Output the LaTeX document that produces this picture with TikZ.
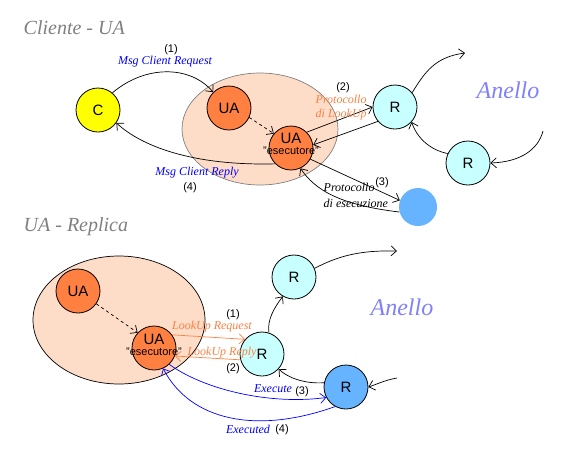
\documentclass[tikz,border=0pt]{standalone}
\usepackage{fontspec}
\setmainfont{Liberation Serif}
\setsansfont{Liberation Sans}
\usetikzlibrary{arrows.meta}
\definecolor{giallo}{HTML}{FFFF00}
\definecolor{arancio}{HTML}{FF8040}
\definecolor{pesca}{HTML}{FDDCC8}
\definecolor{ciano}{HTML}{C8FFFF}
\definecolor{azzurro}{HTML}{66B3FF}
\definecolor{lilla}{HTML}{8080FF}
\definecolor{grigio}{HTML}{808080}
\begin{document}
\begin{tikzpicture}[x=1pt, y=-1pt, line width=0.7pt,
    >={Straight Barb[length=5.5pt,width=10pt]},
    nodo/.style={circle, draw, line width=0.8pt, minimum size=44pt, inner sep=0pt,
        font=\sffamily\fontsize{15}{15}\selectfont},
    titolo/.style={anchor=west, text=grigio, font=\itshape\fontsize{20}{20}\selectfont},
    anello/.style={text=lilla, font=\itshape\fontsize{24}{24}\selectfont},
    num/.style={font=\sffamily\fontsize{11}{11}\selectfont},
    etich/.style={font=\itshape\fontsize{12}{12}\selectfont},
    esectxt/.style={font=\sffamily\fontsize{11}{11}\selectfont}]
    \useasboundingbox (0,0) rectangle (576,448);

    % ---- Cliente - UA ----
    \node[titolo] (tit1) at (20,28) {Cliente - UA};
    \fill[pesca, draw=grigio] (260,129) ellipse [x radius=78pt, y radius=56pt];
    \node[nodo, fill=giallo] (c) at (98,110) {C};
    \node[nodo, fill=arancio] (ua) at (229,108) {UA};
    \node[nodo, fill=arancio] (esec) at (291,148) {};
    \node[font=\sffamily\fontsize{15}{15}\selectfont] (esecua) at ([yshift=10pt]esec) {UA};
    \node[esectxt] (esecnome) at ([yshift=-3pt]esec) {"esecutore"};
    \node[nodo, fill=ciano] (r1) at (395,107) {R};
    \node[nodo, fill=ciano] (r2) at (468,163) {R};
    \node[circle, fill=azzurro, minimum size=38pt, inner sep=0pt] (rep1) at (418,207) {};
    \node[anello] (anello1) at (508,90) {Anello};
    \coordinate (out1) at (465,53);
    \coordinate (in1) at (543,131);

    % richiesta e risposta del client
    \draw[->] (c.50) .. controls (145,65) and (190,65) .. (ua.135);
    \draw[->] (esec.225) .. controls (190,166) and (140,145) .. (c.-35);
    \draw[->, dashed] (ua.-25) -- (esec.140);
    \node[num] (n1) at (171,50) {(1)};
    \node[etich, text=blue] (req1) at (165,62) {Msg Client Request};
    \node[etich, text=blue] (rep1l) at (197,173) {Msg Client Reply};
    \node[num] (n4) at (190,188) {(4)};

    % protocollo di lookup
    \draw[->] (esec.45) -- (r1.180);
    \draw[->] (r1.220) -- (esec.8);
    \node[num] (n2) at (343,88) {(2)};
    \node[etich, text=arancio, anchor=west] (prot1) at (312,99) {Protocollo};
    \node[etich, text=arancio, anchor=west] (look1) at (312,115) {di LookUp};

    % protocollo di esecuzione
    \draw[->] (esec.-30) -- (rep1.160);
    \draw[->] (rep1.195) .. controls (340,205) and (315,190) .. (esec.-65);
    \node[num] (n3) at (382,183) {(3)};
    \node[etich, anchor=west] (prot2) at (320,187) {Protocollo};
    \node[etich, anchor=west] (esez) at (320,203) {di esecuzione};

    % anello
    \draw[->] (r1.40) .. controls (425,72) and (435,57) .. (out1);
    \draw[->] (r2.155) .. controls (430,150) and (417,138) .. (r1.-42);
    \draw[->] (in1) .. controls (538,150) and (520,162) .. (r2.east);

    % ---- UA - Replica ----
    \node[titolo] (tit2) at (20,227) {UA - Replica};
    \fill[pesca, draw=black] (119,320) ellipse [x radius=86pt, y radius=64pt];
    \node[nodo, fill=arancio] (ua2) at (78,291) {UA};
    \node[nodo, fill=arancio] (esec2) at (154,348) {};
    \node[font=\sffamily\fontsize{15}{15}\selectfont] (esecua2) at ([yshift=9pt]esec2) {UA};
    \node[esectxt] (esecnome2) at ([yshift=-4pt]esec2) {"esecutore"};
    \node[nodo, fill=ciano] (rm) at (262,354) {R};
    \node[nodo, fill=ciano] (rt) at (294,277) {R};
    \node[nodo, fill=azzurro] (rb) at (346,387) {R};
    \node[anello] (anello2) at (402,307) {Anello};
    \coordinate (out2) at (397,251);
    \coordinate (in2) at (397,378);

    \draw[->, dashed] (ua2.-35) -- (esec2.137);

    % lookup
    \draw[->, arancio] (esec2.36) -- (rm.139);
    \draw[->, arancio] (rm.195) -- (esec2.-21);
    \node[num] (m1) at (233,315) {(1)};
    \node[etich, text=arancio] (lreq) at (212,327) {LookUp Request};
    \node[etich, text=arancio] (lrep) at (222,353) {LookUp Reply};
    \node[num] (m2) at (233,369) {(2)};

    % execute
    \draw[->, blue] (esec2.-47) .. controls (205,390) and (270,405) .. (rb.208);
    \draw[->, blue] (rb.241) .. controls (255,435) and (190,420) .. (esec2.-66);
    \node[etich, text=blue] (exe) at (273,389) {Execute};
    \node[num] (m3) at (302,392) {(3)};
    \node[etich, text=blue] (exed) at (248,429) {Executed};
    \node[num] (m4) at (282,430) {(4)};

    % anello
    \draw[->] (rm.72) .. controls (267,320) and (274,308) .. (rt.240);
    \draw[->] (rt.23) .. controls (335,258) and (355,250) .. (out2);
    \draw[->] (rb.169) .. controls (305,384) and (288,378) .. (rm.-42);
    \draw[->] (in2) .. controls (385,380) and (375,385) .. (rb.east);
\end{tikzpicture}
\end{document}
